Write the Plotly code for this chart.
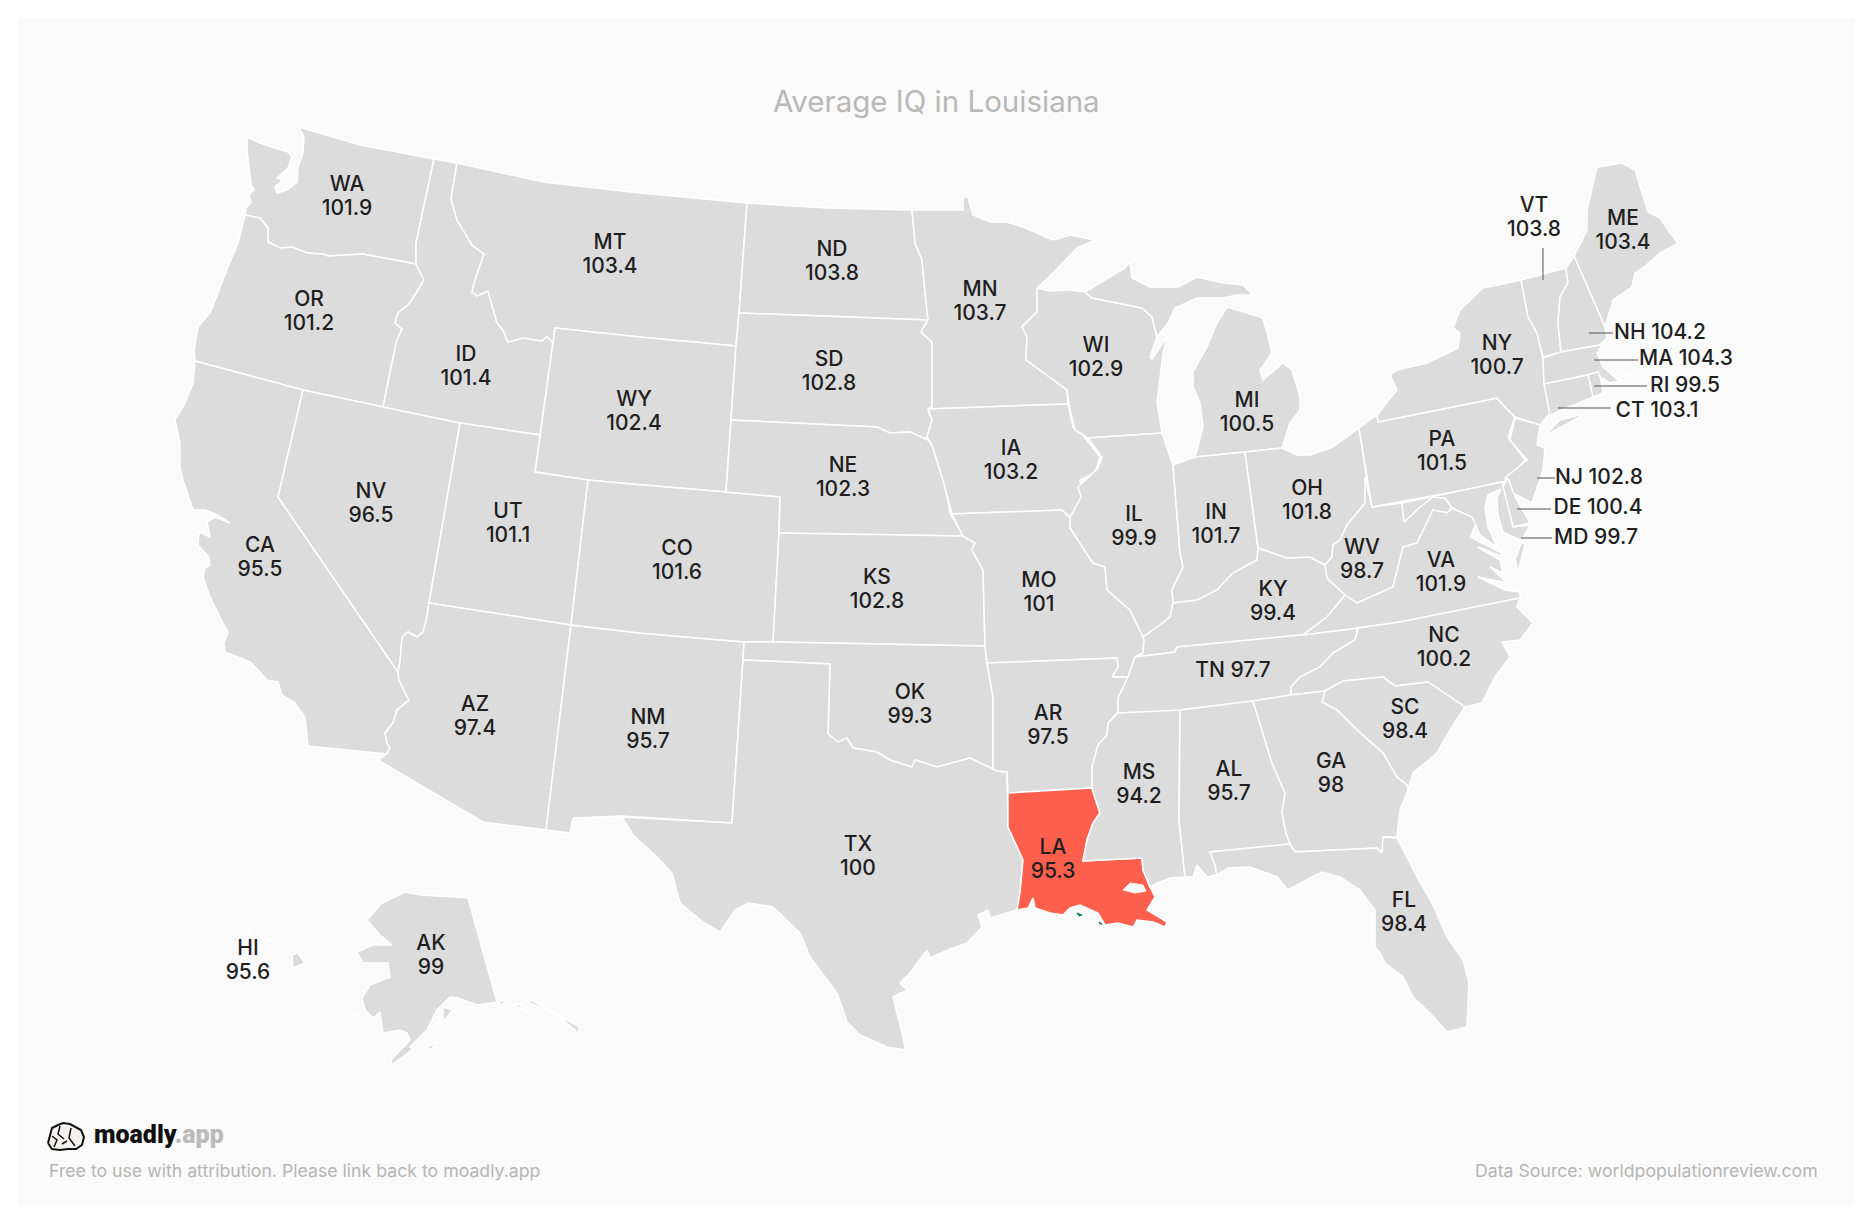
"""Average IQ map of the US states, Louisiana highlighted."""
import plotly.graph_objects as go

# State values and where their labels sit on the picture.
states = ['WA', 'OR', 'CA', 'NV', 'ID', 'MT', 'WY', 'UT', 'AZ', 'NM', 'CO', 'ND', 'SD', 'NE', 'KS', 'OK', 'TX',
          'MN', 'IA', 'MO', 'AR', 'LA', 'WI', 'IL', 'MS', 'MI', 'IN', 'KY', 'TN', 'AL', 'OH', 'WV', 'VA', 'NC',
          'SC', 'GA', 'FL', 'PA', 'NY', 'ME', 'VT', 'NH', 'MA', 'RI', 'CT', 'NJ', 'DE', 'MD', 'AK', 'HI']
iq_values = ['101.9', '101.2', '95.5', '96.5', '101.4', '103.4', '102.4', '101.1', '97.4', '95.7', '101.6', '103.8',
             '102.8', '102.3', '102.8', '99.3', '100', '103.7', '103.2', '101', '97.5', '95.3', '102.9', '99.9',
             '94.2', '100.5', '101.7', '99.4', '97.7', '95.7', '101.8', '98.7', '101.9', '100.2', '98.4', '98',
             '98.4', '101.5', '100.7', '103.4', '103.8', '104.2', '104.3', '99.5', '103.1', '102.8', '100.4',
             '99.7', '99', '95.6']
label_x = [347, 309, 260, 371, 466, 610, 634, 508, 475, 648, 677, 832, 829, 843, 877, 910, 858,
           980, 1011, 1039, 1048, 1053, 1096, 1134, 1139, 1247, 1216, 1273, 1233, 1229, 1307, 1362, 1441, 1444,
           1405, 1331, 1404, 1442, 1497, 1623, 1534, 1660, 1686, 1685, 1657, 1599, 1598, 1596, 431, 248]
label_y = [196, 311, 557, 503, 366, 254, 411, 523, 716, 729, 560, 261, 371, 477, 589, 704, 856,
           301, 460, 592, 725, 859, 357, 526, 784, 412, 524, 601, 670, 781, 500, 559, 572, 647,
           719, 773, 912, 451, 355, 230, 217, 332, 358, 385, 410, 477, 507, 537, 955, 960]
one_line = ['TN', 'NH', 'MA', 'RI', 'CT', 'NJ', 'DE', 'MD']

# Leader lines for the small north-eastern states.
leaders = [((1543, 248), (1543, 280)), ((1589, 333), (1613, 333)), ((1594, 360), (1638, 360)),
           ((1594, 386), (1647, 386)), ((1558, 408), (1611, 408)), ((1537, 478), (1555, 478)),
           ((1517, 509), (1551, 509)), ((1521, 538), (1552, 538))]

# State outlines in page pixels (None starts a new part).
outlines = {
    'WA': [(299, 127), (360, 145), (434, 159), (416, 243), (416, 264), (363, 254), (328, 256), (323, 254), (307, 253),
           (292, 247), (280, 248), (268, 242), (268, 228), (260, 218), (245, 215), (246, 208), (251, 202), (249, 195),
           (254, 190), (251, 185), (249, 167), (247, 150), (247, 137), (260, 143), (275, 148), (288, 152), (292, 157),
           (288, 168), (277, 178), (283, 180), (275, 187), (277, 193), (287, 190), (297, 182), (298, 167), (303, 153),
           (304, 137)],
    'OR': [(245, 215), (260, 218), (268, 228), (268, 242), (280, 248), (292, 247), (307, 253), (323, 254), (328, 256),
           (363, 254), (416, 264), (424, 280), (410, 303), (398, 313), (395, 323), (402, 329), (396, 343), (383, 407),
           (303, 390), (195, 361), (194, 350), (198, 327), (210, 313), (215, 300), (228, 267), (238, 243), (243, 223)],
    'CA': [(195, 361), (303, 390), (278, 497), (398, 672), (399, 680), (405, 693), (409, 700), (397, 710), (393, 723),
           (385, 733), (387, 743), (390, 747), (387, 754), (308, 746), (307, 737), (305, 717), (295, 703), (282, 695),
           (278, 682), (267, 680), (258, 670), (250, 662), (225, 652), (224, 643), (228, 632), (223, 623), (210, 597),
           (203, 577), (205, 568), (210, 565), (209, 557), (198, 545), (199, 532), (210, 537), (207, 522), (215, 517),
           (230, 523), (218, 515), (205, 510), (193, 510), (183, 480), (180, 468), (180, 443), (175, 420), (185, 403),
           (193, 383)],
    'NV': [(303, 390), (383, 407), (460, 423), (429, 603), (427, 617), (423, 632), (417, 637), (408, 632), (402, 637),
           (400, 662), (398, 672), (278, 497)],
    'ID': [(434, 159), (457, 163), (451, 199), (457, 220), (472, 245), (484, 254), (475, 280), (472, 292), (477, 296),
           (488, 291), (497, 323), (503, 330), (508, 342), (523, 338), (542, 341), (547, 336), (553, 343), (540, 435),
           (460, 423), (383, 407), (396, 343), (402, 329), (395, 323), (398, 313), (410, 303), (424, 280), (416, 264),
           (416, 243)],
    'MT': [(457, 163), (543, 182), (640, 193), (747, 203), (739, 313), (736, 346), (640, 337), (555, 328), (553, 343),
           (547, 336), (542, 341), (523, 338), (508, 342), (503, 330), (497, 323), (488, 291), (477, 296), (472, 292),
           (475, 280), (484, 254), (472, 245), (457, 220), (451, 199)],
    'WY': [(555, 328), (640, 337), (736, 346), (731, 420), (726, 492), (620, 483), (588, 480), (535, 472), (540, 435)],
    'UT': [(460, 423), (540, 435), (535, 472), (588, 480), (571, 625), (429, 603)],
    'AZ': [(429, 603), (571, 625), (546, 830), (483, 822), (378, 760), (387, 754), (390, 747), (387, 743), (385, 733),
           (393, 723), (397, 710), (409, 700), (405, 693), (399, 680), (398, 672), (400, 662), (402, 637), (408, 632),
           (417, 637), (423, 632), (427, 617)],
    'NM': [(571, 625), (640, 633), (744, 642), (743, 660), (732, 823), (622, 816), (573, 818), (570, 833), (546, 830)],
    'CO': [(588, 480), (620, 483), (726, 492), (780, 497), (779, 533), (773, 642), (744, 642), (640, 633), (571, 625)],
    'ND': [(747, 203), (827, 208), (912, 210), (915, 243), (922, 260), (925, 293), (928, 320), (739, 313)],
    'SD': [(739, 313), (928, 320), (921, 332), (932, 342), (932, 407), (928, 410), (932, 420), (927, 437), (932, 445),
           (928, 440), (910, 432), (890, 433), (877, 427), (731, 420), (736, 346)],
    'NE': [(731, 420), (877, 427), (890, 433), (910, 432), (928, 440), (932, 445), (943, 480), (948, 500), (950, 513),
           (963, 536), (779, 533), (780, 497), (726, 492)],
    'KS': [(779, 533), (963, 536), (975, 543), (972, 550), (983, 570), (985, 646), (773, 642)],
    'OK': [(744, 642), (773, 642), (985, 646), (987, 663), (993, 697), (993, 769), (970, 758), (937, 767), (915, 760),
           (912, 767), (890, 760), (877, 752), (853, 748), (847, 738), (838, 742), (828, 734), (830, 664), (743, 660)],
    'TX': [(743, 660), (830, 664), (828, 734), (838, 742), (847, 738), (853, 748), (877, 752), (890, 760), (912, 767),
           (915, 760), (937, 767), (970, 758), (993, 769), (997, 771), (1007, 772), (1008, 827), (1023, 860),
           (1020, 893), (1017, 910), (990, 918), (988, 910), (978, 915), (982, 927), (967, 943), (948, 950), (930, 958),
           (927, 950), (910, 973), (900, 983), (907, 990), (893, 997), (898, 1017), (903, 1037), (906, 1050),
           (887, 1047), (860, 1035), (847, 1022), (837, 993), (810, 957), (800, 933), (773, 907), (748, 903), (735, 910),
           (720, 932), (703, 922), (680, 903), (672, 873), (660, 860), (633, 835), (622, 817), (732, 823)],
    'MN': [(912, 210), (963, 210), (963, 197), (968, 197), (973, 215), (990, 222), (1007, 222), (1023, 227), (1037, 233),
           (1053, 240), (1070, 235), (1095, 240), (1077, 248), (1053, 273), (1037, 288), (1037, 312), (1022, 327),
           (1027, 337), (1026, 360), (1047, 375), (1067, 390), (1068, 404), (928, 409), (932, 407), (932, 342),
           (921, 332), (928, 320), (925, 293), (922, 260), (915, 243)],
    'IA': [(928, 409), (1068, 404), (1073, 427), (1083, 435), (1100, 457), (1095, 473), (1080, 480), (1082, 497),
           (1070, 517), (1062, 510), (952, 514), (948, 500), (943, 480), (932, 445), (927, 437), (932, 420)],
    'MO': [(952, 514), (1062, 510), (1070, 518), (1070, 528), (1093, 563), (1105, 567), (1107, 590), (1130, 610),
           (1143, 637), (1144, 640), (1143, 653), (1135, 657), (1128, 677), (1112, 677), (1118, 667), (1117, 658),
           (987, 663), (985, 646), (983, 570), (972, 550), (975, 543), (963, 536)],
    'AR': [(987, 663), (1117, 658), (1118, 667), (1112, 677), (1128, 677), (1118, 698), (1118, 712), (1108, 723),
           (1107, 735), (1098, 745), (1092, 767), (1092, 788), (1008, 793), (1007, 772), (997, 771), (993, 769),
           (993, 697)],
    'LA': [(1008, 793), (1092, 788), (1095, 798), (1100, 813), (1093, 823), (1087, 840), (1083, 861), (1142, 858),
           (1143, 870), (1150, 887), (1155, 897), (1147, 910), (1167, 922), (1165, 927), (1153, 922), (1137, 920),
           (1133, 927), (1118, 923), (1105, 925), (1098, 913), (1080, 905), (1070, 908), (1063, 915), (1050, 913),
           (1035, 908), (1033, 898), (1028, 908), (1017, 910), (1020, 893), (1023, 860), (1008, 827)],
    'WI': [(1037, 288), (1050, 291), (1070, 290), (1085, 292), (1092, 298), (1142, 308), (1152, 317), (1157, 337),
           (1150, 357), (1152, 359), (1163, 343), (1168, 335), (1163, 353), (1160, 380), (1157, 403), (1162, 433),
           (1088, 438), (1075, 430), (1070, 410), (1067, 390), (1047, 375), (1026, 360), (1027, 337), (1022, 327),
           (1037, 312)],
    'IL': [(1088, 438), (1162, 433), (1173, 465), (1180, 553), (1183, 567), (1172, 590), (1173, 603), (1170, 617),
           (1160, 625), (1143, 637), (1130, 610), (1107, 590), (1105, 567), (1093, 563), (1070, 528), (1070, 518),
           (1081, 497), (1078, 487), (1098, 468), (1102, 457)],
    'MS': [(1118, 713), (1177, 708), (1180, 710), (1179, 820), (1185, 877), (1170, 878), (1153, 885), (1150, 887),
           (1143, 870), (1142, 858), (1083, 861), (1087, 840), (1093, 823), (1100, 813), (1095, 798), (1092, 788),
           (1092, 767), (1098, 745), (1107, 735), (1108, 723)],
    'MI': [(1085, 292), (1108, 278), (1125, 268), (1130, 262), (1143, 253), (1130, 263), (1132, 278), (1150, 287),
           (1178, 287), (1197, 277), (1223, 283), (1243, 285), (1253, 295), (1237, 295), (1223, 298), (1197, 298),
           (1175, 308), (1168, 323), (1157, 337), (1152, 317), (1142, 308), (1092, 298), None,
           (1227, 307), (1263, 318), (1268, 337), (1272, 353), (1260, 370), (1263, 380), (1283, 363), (1292, 370),
           (1300, 397), (1300, 410), (1290, 423), (1282, 448), (1245, 452), (1195, 457), (1203, 427), (1200, 403),
           (1193, 387), (1193, 372), (1207, 347), (1217, 323)],
    'IN': [(1173, 465), (1195, 457), (1245, 452), (1258, 548), (1257, 560), (1233, 573), (1217, 590), (1197, 600),
           (1173, 603), (1172, 590), (1183, 567), (1180, 553)],
    'KY': [(1173, 603), (1197, 600), (1217, 590), (1233, 573), (1257, 560), (1258, 548), (1287, 558), (1310, 557),
           (1325, 565), (1327, 578), (1345, 595), (1327, 617), (1303, 635), (1177, 647), (1175, 652), (1135, 657),
           (1143, 653), (1144, 640), (1143, 637), (1160, 625), (1170, 617)],
    'TN': [(1135, 657), (1175, 652), (1177, 647), (1300, 635), (1358, 628), (1355, 640), (1333, 653), (1320, 667),
           (1300, 677), (1291, 687), (1291, 695), (1253, 701), (1180, 710), (1118, 713), (1118, 698), (1128, 677)],
    'AL': [(1180, 710), (1253, 701), (1272, 763), (1285, 793), (1282, 813), (1286, 833), (1290, 844), (1210, 852),
           (1215, 865), (1217, 875), (1207, 877), (1197, 865), (1193, 877), (1185, 877), (1179, 820)],
    'OH': [(1245, 452), (1282, 448), (1297, 455), (1310, 455), (1333, 447), (1359, 428), (1367, 480), (1365, 503),
           (1347, 525), (1340, 540), (1333, 545), (1332, 557), (1325, 565), (1310, 557), (1287, 558), (1258, 548)],
    'WV': [(1365, 477), (1372, 507), (1402, 503), (1404, 522), (1420, 507), (1433, 497), (1445, 498), (1452, 508),
           (1447, 513), (1433, 510), (1417, 543), (1403, 547), (1400, 560), (1393, 587), (1357, 603), (1345, 595),
           (1327, 578), (1325, 565), (1332, 557), (1333, 545), (1340, 540), (1347, 525), (1365, 503)],
    'VA': [(1345, 595), (1357, 603), (1393, 587), (1400, 560), (1403, 547), (1417, 543), (1433, 510), (1447, 513),
           (1452, 508), (1472, 517), (1477, 522), (1470, 537), (1500, 552), (1503, 557), (1478, 547), (1500, 560),
           (1503, 573), (1490, 567), (1507, 583), (1478, 577), (1505, 590), (1520, 592), (1520, 598), (1400, 622),
           (1358, 628), (1303, 635), (1327, 617), None, (1522, 541), (1525, 545), (1518, 572), (1515, 560)],
    'NC': [(1358, 628), (1400, 622), (1520, 598), (1517, 607), (1533, 623), (1520, 640), (1502, 642), (1510, 657),
           (1495, 677), (1482, 703), (1465, 707), (1428, 682), (1395, 686), (1383, 677), (1343, 681), (1325, 691),
           (1291, 695), (1291, 687), (1300, 677), (1320, 667), (1333, 653), (1355, 640)],
    'SC': [(1325, 691), (1343, 681), (1383, 677), (1395, 686), (1428, 682), (1465, 707), (1450, 730), (1437, 753),
           (1413, 773), (1408, 790), (1407, 785), (1397, 777), (1383, 753), (1357, 730), (1337, 710), (1322, 702)],
    'GA': [(1253, 701), (1291, 695), (1325, 691), (1322, 702), (1337, 710), (1357, 730), (1383, 753), (1397, 777),
           (1407, 785), (1408, 790), (1400, 810), (1397, 837), (1383, 837), (1382, 853), (1377, 848), (1295, 852),
           (1290, 844), (1286, 833), (1282, 813), (1285, 793), (1272, 763)],
    'FL': [(1210, 852), (1290, 844), (1295, 852), (1377, 848), (1382, 853), (1383, 837), (1397, 838), (1417, 877),
           (1432, 903), (1447, 937), (1463, 960), (1469, 983), (1467, 1027), (1447, 1032), (1430, 1013), (1413, 997),
           (1403, 977), (1385, 963), (1380, 953), (1375, 947), (1375, 910), (1360, 890), (1340, 877), (1322, 872),
           (1310, 878), (1288, 890), (1277, 877), (1250, 867), (1228, 868), (1217, 875), (1215, 865)],
    'PA': [(1378, 422), (1497, 398), (1505, 407), (1515, 417), (1508, 437), (1525, 460), (1510, 477), (1502, 483),
           (1372, 507), (1359, 428), (1377, 415)],
    'NY': [(1522, 280), (1483, 288), (1460, 310), (1453, 328), (1460, 333), (1458, 348), (1427, 363), (1397, 370),
           (1390, 375), (1397, 390), (1377, 415), (1378, 422), (1497, 398), (1505, 407), (1515, 417), (1540, 425),
           (1550, 413), (1545, 383), (1543, 358), (1537, 333), (1528, 317), None,
           (1543, 437), (1560, 420), (1587, 413)],
    'ME': [(1574, 256), (1587, 230), (1587, 210), (1597, 167), (1622, 163), (1635, 170), (1648, 212), (1660, 218),
           (1670, 233), (1678, 243), (1660, 253), (1643, 268), (1635, 273), (1632, 287), (1613, 300), (1605, 327)],
    'VT': [(1521, 280), (1566, 268), (1568, 283), (1560, 297), (1558, 323), (1561, 352), (1543, 357), (1537, 333),
           (1528, 317)],
    'NH': [(1574, 256), (1605, 327), (1607, 338), (1600, 345), (1561, 352), (1558, 323), (1560, 297), (1568, 283),
           (1566, 268)],
    'MA': [(1543, 358), (1561, 352), (1600, 345), (1607, 338), (1597, 353), (1603, 367), (1610, 373), (1618, 380),
           (1637, 370), (1623, 380), (1610, 383), (1600, 377), (1598, 372), (1588, 375), (1544, 384)],
    'RI': [(1588, 375), (1598, 372), (1601, 380), (1603, 393), (1593, 397)],
    'CT': [(1544, 384), (1588, 375), (1593, 397), (1550, 415)],
    'NJ': [(1515, 418), (1540, 425), (1537, 445), (1545, 448), (1543, 470), (1532, 503), (1513, 493), (1505, 478),
           (1527, 460), (1510, 440)],
    'DE': [(1502, 488), (1508, 478), (1515, 497), (1530, 523), (1513, 527)],
    'MD': [(1402, 503), (1502, 482), (1513, 527), (1530, 525), (1522, 540), (1515, 538), (1503, 532), (1498, 515),
           (1497, 498), (1501, 489), (1488, 495), (1485, 507), (1488, 527), (1497, 547), (1480, 535), (1472, 517),
           (1452, 508), (1445, 498), (1433, 497), (1420, 507), (1404, 522)],
    'AK': [(405, 892), (420, 895), (457, 897), (468, 898), (497, 1002), (477, 1005), (458, 998), (450, 997), (437, 1010),
           (427, 1030), (410, 1047), (413, 1049), (392, 1065), (391, 1060), (410, 1040), (407, 1033), (400, 1030),
           (383, 1033), (380, 1012), (373, 1018), (365, 1010), (362, 998), (370, 985), (390, 977), (388, 963),
           (363, 963), (357, 952), (373, 945), (392, 945), (380, 935), (367, 920), (382, 903), None,
           (443, 1007), (453, 1010), (443, 1022), None, (497, 1002), (507, 1000), (502, 1005), None,
           (510, 1003), (528, 1012), (520, 1005), None, (528, 998), (543, 1007), (580, 1027), (578, 1033), (560, 1017),
           (530, 1003), None, (427, 1047), (438, 1042), (430, 1050), None, (377, 1073), (385, 1067), (380, 1074), None,
           (353, 1015), (358, 1014), (358, 1017)],
    'HI': [(292, 955), (298, 953), (305, 963), (293, 968), None, (285, 945), (290, 948), (287, 949), None,
           (267, 938), (272, 940), (269, 941), None, (248, 930), (253, 931), (250, 933), None,
           (276, 943), (282, 945), (278, 945)],
}

# Lake Pontchartrain and the two small green marks on the Louisiana coast.
lake = [(1123, 890), (1130, 883), (1143, 885), (1146, 891), (1135, 893)]
specks = [(1077, 913), (1082, 915), (1079, 916), None, (1099, 922), (1102, 924), (1100, 924)]

# Brain logo next to the brand name.
logo = [(48, 1143), (50, 1135), (52, 1128), (58, 1125), (63, 1123), (70, 1124), (75, 1127), (81, 1130), (84, 1137),
        (82, 1145), (76, 1149), (68, 1149), (60, 1150), (52, 1149)]
logo_creases = [(60, 1126), (58, 1134), (64, 1139), None, (71, 1128), (69, 1138), (75, 1146), None,
                (52, 1136), (57, 1140), (54, 1147), None, (62, 1144), (67, 1141)]

GRAY = '#dcdcdc'
RED = '#ff5f4d'
BACKGROUND = '#fafafa'


def unzip(points):
    xs = [p[0] if p else None for p in points]
    ys = [p[1] if p else None for p in points]
    return xs, ys


def close_parts(points):
    # repeat the first vertex of each part so the white border closes
    out, start = [], None
    for p in points:
        if p is None:
            out += [start, None]
            start = None
        else:
            start = start or p
            out.append(p)
    return out + [start]


fig = go.Figure()
for state in states:
    xs, ys = unzip(close_parts(outlines[state]))
    fig.add_trace(go.Scatter(x=xs, y=ys, mode='lines', fill='toself', hoverinfo='skip',
                             fillcolor=RED if state == 'LA' else GRAY,
                             line=dict(color='white', width=1.5)))

xs, ys = unzip(close_parts(lake))
fig.add_trace(go.Scatter(x=xs, y=ys, mode='lines', fill='toself', fillcolor=BACKGROUND, hoverinfo='skip',
                         line=dict(color=BACKGROUND, width=1)))
xs, ys = unzip(close_parts(specks))
fig.add_trace(go.Scatter(x=xs, y=ys, mode='lines', fill='toself', fillcolor='#0b7d5e', hoverinfo='skip',
                         line=dict(color='#0b7d5e', width=1)))

for start, end in leaders:
    fig.add_trace(go.Scatter(x=[start[0], end[0]], y=[start[1], end[1]], mode='lines', hoverinfo='skip',
                             line=dict(color='#555555', width=1)))

# Two-line labels go in as two text rows so the line spacing can follow the picture.
label_font = dict(family='Inter', size=21, color='#1f1f1f', weight=500)
text_x, text_y, text = [], [], []
for state, value, x, y in zip(states, iq_values, label_x, label_y):
    if state in one_line:
        text_x.append(x)
        text_y.append(y + 2)
        text.append(f'{state} {value}')
    else:
        text_x += [x, x]
        text_y += [y - 10, y + 14]
        text += [state, value]
fig.add_trace(go.Scatter(x=text_x, y=text_y, mode='text', text=text, hoverinfo='skip',
                         textposition='middle center', textfont=label_font))

xs, ys = unzip(close_parts(logo))
fig.add_trace(go.Scatter(x=xs, y=ys, mode='lines', fill='toself', fillcolor='#f4f2ee', hoverinfo='skip',
                         line=dict(color='#111111', width=2)))
xs, ys = unzip(logo_creases)
fig.add_trace(go.Scatter(x=xs, y=ys, mode='lines', hoverinfo='skip', line=dict(color='#111111', width=1.5)))

fig.add_shape(type='rect', x0=18, x1=1855, y0=18, y1=1205, fillcolor=BACKGROUND, line_width=0, layer='below')

fig.add_annotation(x=936, y=101, text='Average IQ in Louisiana', showarrow=False,
                   font=dict(family='Inter', size=29.5, color='#b8b8b8'))
fig.add_annotation(x=92, y=1134, xanchor='left', showarrow=False,
                   text="moadly<span style='color:#bbbbbb'>.app</span>",
                   font=dict(family='Roboto', size=25, color='#111111', weight=900))
fig.add_annotation(x=47, y=1170, xanchor='left', text='Free to use with attribution. Please link back to moadly.app',
                   showarrow=False, font=dict(family='Inter', size=17.7, color='#b5b5b5'))
fig.add_annotation(x=1820, y=1170, xanchor='right', text='Data Source: worldpopulationreview.com',
                   showarrow=False, font=dict(family='Inter', size=17.7, color='#b5b5b5'))

fig.update_xaxes(range=[0, 1872], visible=False)
fig.update_yaxes(range=[1224, 0], visible=False)
fig.update_layout(width=1872, height=1224, margin=dict(l=0, r=0, t=0, b=0), showlegend=False,
                  paper_bgcolor='white', plot_bgcolor='white')

fig.write_html("out.html", config={'displayModeBar': False}, post_script="document.body.style.margin='0';")
